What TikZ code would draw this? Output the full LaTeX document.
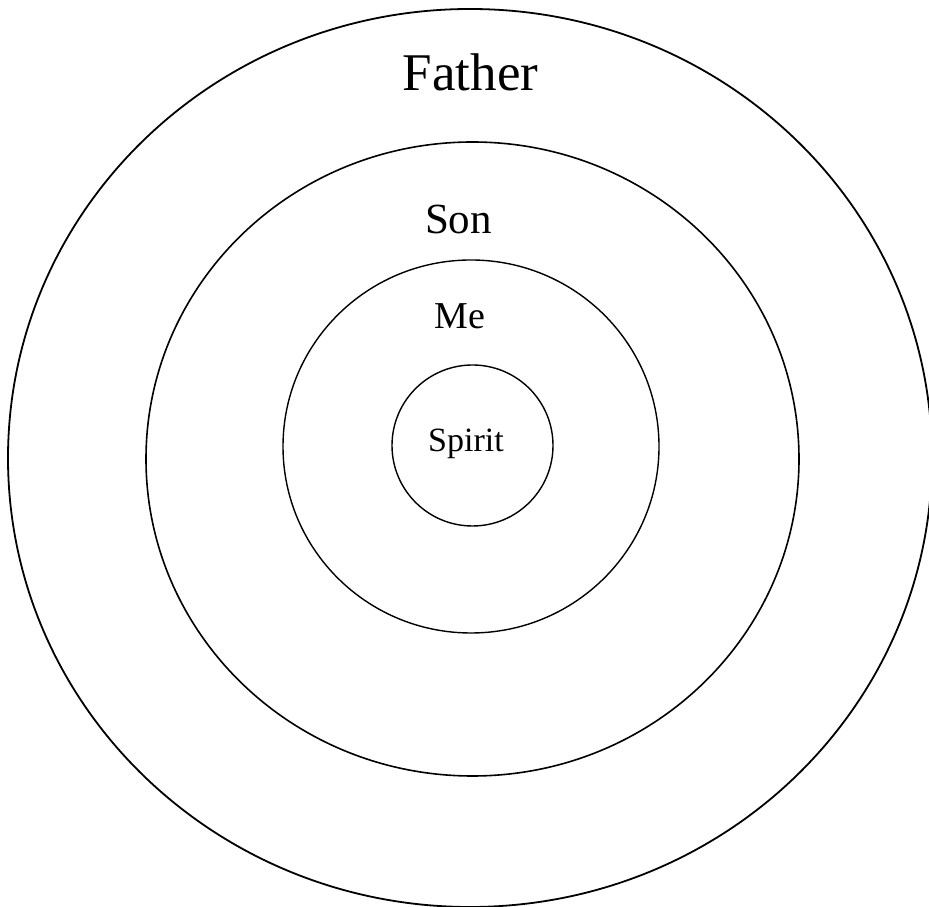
\documentclass[tikz,border=0pt]{standalone}
\usepackage{fontspec}
\setmainfont{Liberation Serif}
\begin{document}
\begin{tikzpicture}[x=1pt,y=1pt,
  ring/.style={draw=black,line width=#1},
  ring/.default=1.4pt,
  lbl/.style={anchor=base,inner sep=0pt,text=black}]
\useasboundingbox (0,0) rectangle (929,907);
\clip (0,0) rectangle (929,907);
\fill[white] (0,0) rectangle (929,907);
% rings (y measured from the bottom)
\coordinate (cF) at (470,449);
\coordinate (cS) at (472.5,448);
\coordinate (cM) at (471,460.5);
\coordinate (cP) at (472.5,461.5);
\draw[ring=1.8pt] (cF) ellipse [x radius=462, y radius=449];
\draw[ring=1.6pt] (cS) ellipse [x radius=326.5, y radius=317];
\draw[ring=1.4pt] (cM) ellipse [x radius=188, y radius=186.5];
\draw[ring=1.4pt] (cP) ellipse [x radius=80.5, y radius=80.5];
% labels
\node[lbl,font=\fontsize{53}{60}\selectfont] (father) at (470.5,816) {Father};
\node[lbl,font=\fontsize{43}{50}\selectfont] (son) at (458.5,673) {Son};
\node[lbl,font=\fontsize{38}{44}\selectfont] (me) at (460,578) {Me};
\node[lbl,font=\fontsize{34}{40}\selectfont] (spirit) at (466,455.5) {Spirit};
\end{tikzpicture}
\end{document}
